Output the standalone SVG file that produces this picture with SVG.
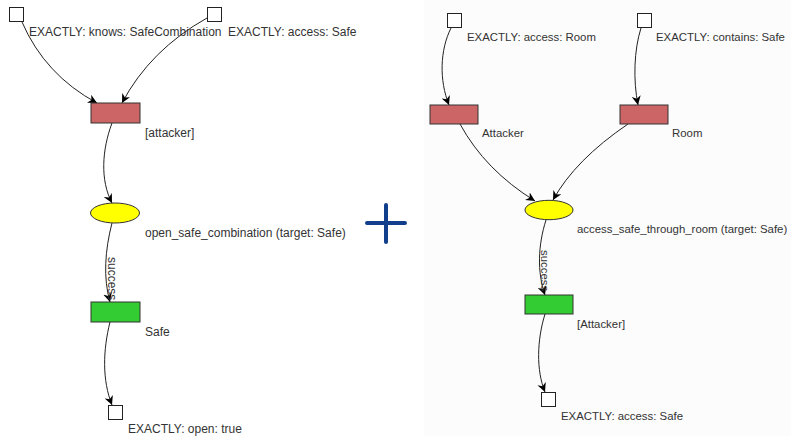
<svg xmlns="http://www.w3.org/2000/svg" width="791" height="436" viewBox="0 0 791 436">
<defs>
<marker id="arr" viewBox="0 0 10 10" refX="10" refY="5" markerWidth="9" markerHeight="9" markerUnits="userSpaceOnUse" orient="auto">
<path d="M0,0 L10,5 L0,10 L3,5 z" fill="#000"/>
</marker>
<style>
.sq{fill:#fff;stroke:#222;stroke-width:1}
.st{fill:#cc6666;stroke:#333;stroke-width:1}
.ok{fill:#33cc33;stroke:#333;stroke-width:1}
.ac{fill:#ffff00;stroke:#333;stroke-width:1}
.lb{font-family:"Liberation Sans",Arial,sans-serif;font-size:12px;fill:#333}
.lr{font-family:"Liberation Sans",Arial,sans-serif;font-size:11.4px;fill:#333}
.ed{fill:none;stroke:#222;stroke-width:1;marker-end:url(#arr)}
.el{font-family:"Liberation Sans",Arial,sans-serif;font-size:12px;fill:#333}
</style>
</defs>
<rect x="0" y="0" width="791" height="436" fill="#ffffff"/>
<rect x="424" y="0" width="367" height="436" fill="#fcfcfc"/>

<g id="connectors">
<path class="ed" d="M22,22 Q45,75 97,103"/>
<path class="ed" d="M207,18 Q150,50 122,103"/>
<path class="ed" d="M112,123 C102,150 100,180 112,203"/>
<path class="ed" d="M112,223 C105,250 103,278 110,302"/>
<path class="ed" d="M110,322 C103,350 102,380 112,405"/>
<text class="el" transform="translate(108,257) rotate(90)">success</text>

<path class="ed" d="M451,28 C440,50 439,80 449,105"/>
<path class="ed" d="M641,28 C634,50 633,80 638,105"/>
<path class="ed" d="M460,124 Q485,170 535,201"/>
<path class="ed" d="M628,124 Q575,160 553,200"/>
<path class="ed" d="M546,220 C538,245 537,272 545,295"/>
<path class="ed" d="M545,314 C537,340 536,370 545,392"/>
<text class="el" transform="translate(541,250) rotate(90)" style="font-size:11.4px">success</text>
</g>

<g id="n_knows">
<rect class="sq" x="9.5" y="7.5" width="14" height="14"/>
<text class="lb" x="29" y="36">EXACTLY: knows: SafeCombination</text>
</g>
<g id="n_access_safe_pre">
<rect class="sq" x="207.5" y="7.5" width="14" height="14"/>
<text class="lb" x="228" y="36">EXACTLY: access: Safe</text>
</g>
<g id="n_attacker">
<rect class="st" x="91" y="103" width="49" height="20"/>
<text class="lb" x="145" y="137">[attacker]</text>
</g>
<g id="n_open_safe_combination">
<ellipse class="ac" cx="115" cy="213" rx="24.5" ry="10"/>
<text class="lb" x="145" y="237">open_safe_combination (target: Safe)</text>
</g>
<g id="n_safe">
<rect class="ok" x="91" y="302" width="49" height="20"/>
<text class="lb" x="145" y="336">Safe</text>
</g>
<g id="n_open_true">
<rect class="sq" x="108.5" y="405.5" width="14" height="14"/>
<text class="lb" x="128" y="433">EXACTLY: open: true</text>
</g>

<g id="plus">
<path d="M386,205 V242 M367,223 H405" stroke="#113f8c" stroke-width="4" stroke-linecap="round" fill="none"/>
</g>

<g id="n_access_room">
<rect class="sq" x="447.5" y="13.5" width="14" height="14"/>
<text class="lr" x="467" y="41">EXACTLY: access: Room</text>
</g>
<g id="n_contains_safe">
<rect class="sq" x="637.5" y="13.5" width="14" height="14"/>
<text class="lr" x="656" y="41">EXACTLY: contains: Safe</text>
</g>
<g id="n_Attacker">
<rect class="st" x="430" y="105" width="48" height="19"/>
<text class="lr" x="482" y="137">Attacker</text>
</g>
<g id="n_Room">
<rect class="st" x="620" y="105" width="48" height="19"/>
<text class="lr" x="672" y="137">Room</text>
</g>
<g id="n_access_safe_through_room">
<ellipse class="ac" cx="549" cy="210" rx="24" ry="9.7"/>
<text class="lr" x="577" y="233">access_safe_through_room (target: Safe)</text>
</g>
<g id="n_Attacker_post">
<rect class="ok" x="525" y="295" width="48" height="19"/>
<text class="lr" x="577" y="328">[Attacker]</text>
</g>
<g id="n_access_safe_post">
<rect class="sq" x="541.5" y="392.5" width="14" height="14"/>
<text class="lr" x="561" y="420">EXACTLY: access: Safe</text>
</g>
</svg>
